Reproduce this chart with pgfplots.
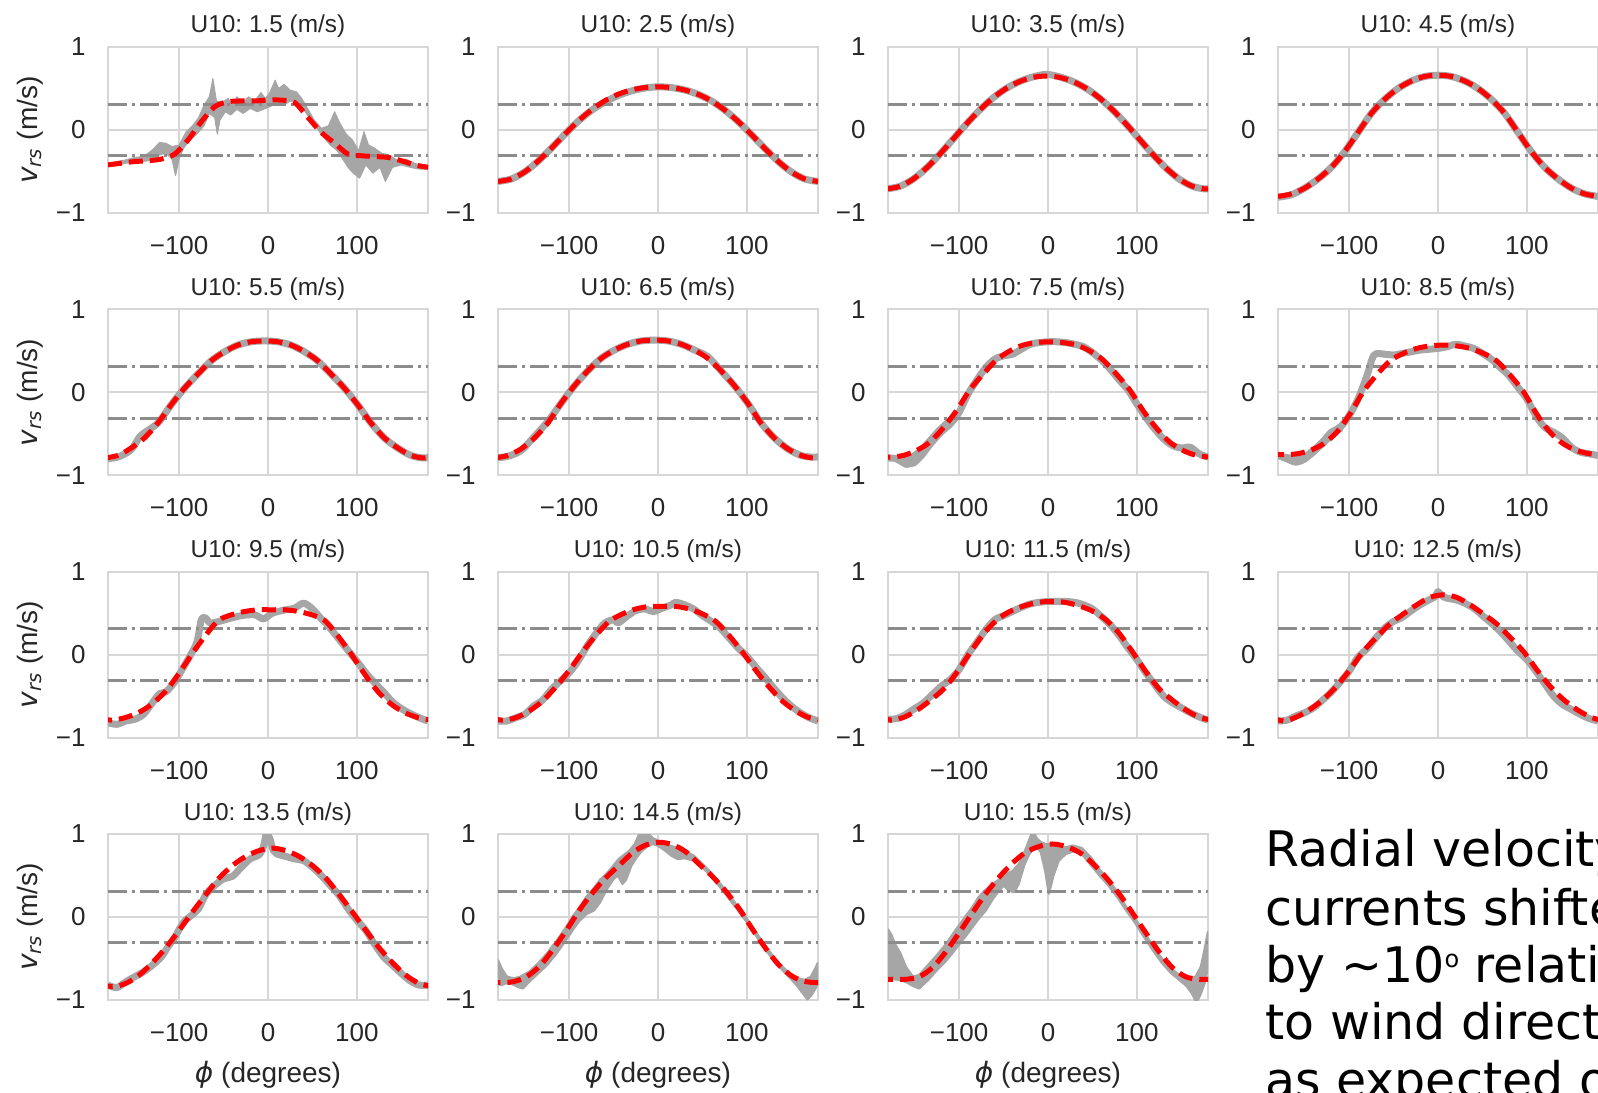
\documentclass[border=0pt]{standalone}
\usepackage{fontspec}
\setmainfont{Liberation Sans}
\newfontfamily\djv{DejaVu Sans}
\usepackage{pgfplots}
\pgfplotsset{compat=1.18}
\frenchspacing

\definecolor{obsgray}{RGB}{166,166,166}
\definecolor{fitred}{RGB}{255,0,0}
\definecolor{refgray}{RGB}{140,140,140}
\definecolor{gridc}{RGB}{214,214,214}
\definecolor{txt}{RGB}{38,38,38}

\pgfplotsset{
  every axis title/.style={font=\fontsize{12.2}{12.2}\selectfont, text=txt, at={(axis description cs:0.5,1)}, anchor=base, yshift=7pt, inner sep=0pt},
  every axis x label/.style={font=\fontsize{14}{14}\selectfont, text=txt, at={(axis description cs:0.5,0)}, anchor=base, yshift=-41pt, inner sep=0pt},
  every axis y label/.style={font=\fontsize{14}{14}\selectfont, text=txt, at={(axis description cs:-0.22,0.5)}, rotate=90, anchor=base, inner sep=0pt},
  panel/.style={
    scale only axis, width=160pt, height=83pt, anchor=north west,
    xmin=-180, xmax=180, ymin=-1, ymax=1,
    xtick={-100,0,100}, xticklabels={−100,0,100},
    ytick={-1,0,1}, yticklabels={−1,0,1},
    major tick length=0pt, tick style={draw=none},
    grid=major, major grid style={line width=1pt, draw=gridc},
    axis line style={line width=1pt, draw=gridc},
    tick label style={font=\fontsize{13}{13}\selectfont, text=txt, inner sep=0pt},
    xticklabel style={anchor=north, yshift=-11.5pt},
    yticklabel style={anchor=east, xshift=-11pt},
    clip=true,
  },
  obsline/.style={color=obsgray, line width=3.5pt, line join=round, smooth},
  band/.style={fill=obsgray, draw=obsgray, line width=#1, line join=round},
  fitline/.style={color=fitred, line width=2.5pt, dash pattern=on 7pt off 3.5pt, smooth},
  refline/.style={color=refgray, line width=1.5pt, dash pattern=on 9.6pt off 2.4pt on 1.5pt off 2.4pt},
}
\newcommand{\reflines}{%
  \addplot[refline] coordinates {(-180,0.31) (180,0.31)};
  \addplot[refline] coordinates {(-180,-0.31) (180,-0.31)};
}
\newcommand{\vrs}{{\djv\itshape v}\textsubscript{\djv\itshape rs} (m/s)}
\newcommand{\phideg}{{\djv\itshape ϕ} (degrees)}

\begin{document}
\begin{tikzpicture}
\useasboundingbox (0pt,-546pt) rectangle (799pt,0pt);
\clip (0pt,-546pt) rectangle (799pt,0pt);

% ---------------- row 1 ----------------
\begin{axis}[panel, at={(54pt,-23.5pt)}, title={U10: 1.5 (m/s)}, ylabel={\vrs}]
\addplot[band=0.5pt] coordinates {(-180,-0.40) (-170,-0.38) (-160,-0.36) (-150,-0.33) (-140,-0.32) (-130,-0.24) (-122,-0.15) (-115,-0.16) (-108,-0.20) (-100,-0.18) (-92,-0.02) (-85,0.05) (-78,0.15) (-72,0.30) (-66,0.40) (-62,0.62) (-58,0.35) (-52,0.33) (-45,0.38) (-40,0.30) (-35,0.40) (-28,0.33) (-22,0.40) (-15,0.35) (-8,0.45) (-3,0.38) (2,0.45) (8,0.60) (12,0.50) (18,0.55) (25,0.48) (32,0.46) (38,0.38) (45,0.25) (52,0.12) (60,0.02) (68,0.05) (75,0.22) (80,0.10) (88,-0.05) (95,-0.12) (102,-0.25) (108,-0.02) (113,-0.18) (120,-0.22) (128,-0.28) (136,-0.30) (145,-0.36) (155,-0.35) (165,-0.40) (172,-0.43) (180,-0.42)
 (180,-0.47) (170,-0.47) (160,-0.45) (150,-0.42) (140,-0.45) (132,-0.62) (126,-0.45) (118,-0.52) (110,-0.42) (103,-0.58) (96,-0.52) (90,-0.45) (84,-0.35) (78,-0.25) (70,-0.18) (62,-0.08) (55,0.02) (48,0.12) (40,0.25) (33,0.32) (25,0.35) (18,0.30) (10,0.32) (2,0.28) (-5,0.25) (-12,0.22) (-20,0.26) (-28,0.20) (-35,0.25) (-42,0.18) (-48,0.22) (-54,0.12) (-57,-0.05) (-60,0.15) (-66,0.20) (-72,0.05) (-80,-0.05) (-88,-0.12) (-95,-0.22) (-100,-0.35) (-104,-0.55) (-108,-0.35) (-115,-0.28) (-122,-0.30) (-130,-0.36) (-140,-0.38) (-150,-0.40) (-160,-0.40) (-170,-0.42) (-180,-0.44)} -- cycle;
\reflines
\addplot[fitline] coordinates {(-180,-0.42) (-165,-0.40) (-150,-0.38) (-135,-0.37) (-120,-0.35) (-105,-0.29) (-90,-0.12) (-75,0.10) (-60,0.28) (-45,0.34) (-30,0.35) (-15,0.35) (0,0.36) (15,0.36) (30,0.33) (45,0.15) (60,-0.03) (75,-0.16) (90,-0.29) (105,-0.31) (120,-0.32) (135,-0.33) (150,-0.37) (165,-0.42) (180,-0.45)};
\end{axis}

\begin{axis}[panel, at={(249pt,-23.5pt)}, title={U10: 2.5 (m/s)}]
\addplot[obsline] coordinates {(-180,-0.620) (-165,-0.590) (-150,-0.505) (-135,-0.376) (-120,-0.220) (-105,-0.054) (-90,0.104) (-75,0.235) (-60,0.335) (-45,0.415) (-30,0.470) (-15,0.505) (0,0.520) (15,0.511) (30,0.482) (45,0.430) (60,0.351) (75,0.241) (90,0.104) (105,-0.054) (120,-0.220) (135,-0.376) (150,-0.505) (165,-0.590) (180,-0.620)};
\reflines
\addplot[fitline] coordinates {(-180,-0.620) (-165,-0.590) (-150,-0.505) (-135,-0.376) (-120,-0.220) (-105,-0.054) (-90,0.104) (-75,0.241) (-60,0.351) (-45,0.430) (-30,0.482) (-15,0.511) (0,0.520) (15,0.511) (30,0.482) (45,0.430) (60,0.351) (75,0.241) (90,0.104) (105,-0.054) (120,-0.220) (135,-0.376) (150,-0.505) (165,-0.590) (180,-0.620)};
\end{axis}

\begin{axis}[panel, at={(444pt,-23.5pt)}, title={U10: 3.5 (m/s)}]
\addplot[obsline] coordinates {(-182,-0.710) (-167,-0.680) (-152,-0.594) (-137,-0.461) (-122,-0.295) (-107,-0.113) (-92,0.070) (-77,0.239) (-62,0.385) (-47,0.501) (-32,0.584) (-17,0.640) (-2,0.670) (13,0.640) (28,0.584) (43,0.501) (58,0.385) (73,0.239) (88,0.070) (103,-0.113) (118,-0.295) (133,-0.461) (148,-0.594) (163,-0.680) (178,-0.710) (193,-0.680)};
\reflines
\addplot[fitline] coordinates {(-182,-0.710) (-167,-0.680) (-152,-0.594) (-137,-0.461) (-122,-0.295) (-107,-0.113) (-92,0.070) (-77,0.239) (-62,0.385) (-47,0.501) (-32,0.584) (-17,0.634) (-2,0.650) (13,0.634) (28,0.584) (43,0.501) (58,0.385) (73,0.239) (88,0.070) (103,-0.113) (118,-0.295) (133,-0.461) (148,-0.594) (163,-0.680) (178,-0.710) (193,-0.680)};
\end{axis}

\begin{axis}[panel, at={(639pt,-23.5pt)}, title={U10: 4.5 (m/s)}]
\addplot[obsline] coordinates {(-180,-0.81) (-165,-0.78) (-150,-0.70) (-135,-0.59) (-120,-0.45) (-105,-0.26) (-90,-0.03) (-75,0.20) (-60,0.37) (-45,0.50) (-30,0.59) (-15,0.645) (0,0.66) (15,0.645) (30,0.59) (45,0.50) (60,0.37) (75,0.20) (90,-0.03) (105,-0.26) (120,-0.45) (135,-0.59) (150,-0.70) (165,-0.77) (180,-0.80)};
\reflines
\addplot[fitline] coordinates {(-180,-0.80) (-165,-0.77) (-150,-0.70) (-135,-0.59) (-120,-0.45) (-105,-0.26) (-90,-0.03) (-75,0.20) (-60,0.37) (-45,0.50) (-30,0.59) (-15,0.645) (0,0.66) (15,0.645) (30,0.59) (45,0.50) (60,0.37) (75,0.20) (90,-0.03) (105,-0.26) (120,-0.45) (135,-0.59) (150,-0.70) (165,-0.77) (180,-0.80)};
\end{axis}

% ---------------- row 2 ----------------
\begin{axis}[panel, at={(54pt,-154.7pt)}, title={U10: 5.5 (m/s)}, ylabel={\vrs}]
\addplot[obsline] coordinates {(-184,-0.80) (-169,-0.78) (-154,-0.69) (-143,-0.52) (-124,-0.37) (-109,-0.15) (-94,0.05) (-79,0.22) (-64,0.38) (-49,0.49) (-34,0.57) (-19,0.61) (-4,0.62) (11,0.61) (26,0.57) (41,0.49) (56,0.38) (71,0.22) (86,0.05) (101,-0.15) (116,-0.37) (131,-0.55) (146,-0.67) (161,-0.76) (176,-0.79) (191,-0.76)};
\reflines
\addplot[fitline] coordinates {(-184,-0.79) (-169,-0.76) (-154,-0.67) (-139,-0.55) (-124,-0.37) (-109,-0.15) (-94,0.05) (-79,0.22) (-64,0.38) (-49,0.49) (-34,0.57) (-19,0.61) (-4,0.62) (11,0.61) (26,0.57) (41,0.49) (56,0.38) (71,0.22) (86,0.05) (101,-0.15) (116,-0.37) (131,-0.55) (146,-0.67) (161,-0.76) (176,-0.79) (191,-0.76)};
\end{axis}

\begin{axis}[panel, at={(249pt,-154.7pt)}, title={U10: 6.5 (m/s)}]
\addplot[obsline] coordinates {(-184,-0.79) (-169,-0.77) (-154,-0.70) (-139,-0.53) (-124,-0.35) (-109,-0.13) (-94,0.08) (-79,0.26) (-64,0.41) (-49,0.51) (-34,0.58) (-19,0.62) (-4,0.63) (11,0.62) (26,0.58) (41,0.51) (56,0.43) (71,0.26) (86,0.08) (101,-0.13) (116,-0.37) (131,-0.55) (146,-0.68) (161,-0.76) (176,-0.78) (191,-0.76)};
\reflines
\addplot[fitline] coordinates {(-184,-0.79) (-169,-0.76) (-154,-0.68) (-139,-0.55) (-124,-0.37) (-109,-0.13) (-94,0.08) (-79,0.26) (-64,0.41) (-49,0.51) (-34,0.58) (-19,0.62) (-4,0.63) (11,0.62) (26,0.58) (41,0.51) (56,0.41) (71,0.26) (86,0.08) (101,-0.13) (116,-0.37) (131,-0.55) (146,-0.68) (161,-0.76) (176,-0.79) (191,-0.76)};
\end{axis}

\begin{axis}[panel, at={(444pt,-154.7pt)}, title={U10: 7.5 (m/s)}]
\addplot[band=0.8pt] coordinates {(-175,-0.78) (-165,-0.80) (-155,-0.76) (-145,-0.68) (-135,-0.56) (-125,-0.44) (-115,-0.34) (-105,-0.24) (-100,-0.20)
 (-100,-0.30) (-110,-0.42) (-120,-0.52) (-130,-0.64) (-140,-0.78) (-150,-0.88) (-160,-0.90) (-170,-0.84) (-175,-0.80)} -- cycle;
\addplot[obsline] coordinates {(-180,-0.79) (-170,-0.80) (-160,-0.86) (-150,-0.84) (-140,-0.72) (-130,-0.58) (-120,-0.47) (-110,-0.38) (-100,-0.24) (-90,-0.02) (-80,0.15) (-70,0.30) (-60,0.40) (-50,0.44) (-40,0.46) (-30,0.52) (-20,0.58) (-10,0.60) (0,0.61) (10,0.61) (20,0.60) (30,0.58) (40,0.55) (50,0.48) (60,0.39) (70,0.28) (80,0.15) (90,0.03) (100,-0.14) (110,-0.30) (120,-0.44) (130,-0.56) (140,-0.64) (150,-0.67) (160,-0.66) (170,-0.74) (180,-0.78)};
\reflines
\addplot[fitline] coordinates {(-193,-0.76) (-178,-0.78) (-163,-0.76) (-148,-0.70) (-133,-0.60) (-118,-0.43) (-103,-0.22) (-88,0.03) (-73,0.22) (-58,0.39) (-43,0.50) (-28,0.57) (-13,0.60) (2,0.61) (17,0.60) (32,0.57) (47,0.50) (62,0.39) (77,0.22) (92,0.03) (107,-0.22) (122,-0.43) (137,-0.60) (152,-0.70) (167,-0.76) (182,-0.78)};
\end{axis}

\begin{axis}[panel, at={(639pt,-154.7pt)}, title={U10: 8.5 (m/s)}]
\addplot[band=0.8pt] coordinates {(-178,-0.74) (-165,-0.76) (-150,-0.74) (-140,-0.66) (-128,-0.56) (-118,-0.44) (-108,-0.36)
 (-108,-0.46) (-118,-0.54) (-128,-0.64) (-140,-0.76) (-150,-0.84) (-160,-0.86) (-170,-0.82) (-178,-0.78)} -- cycle;
\addplot[obsline] coordinates {(-180,-0.76) (-170,-0.80) (-160,-0.84) (-150,-0.80) (-140,-0.70) (-130,-0.60) (-120,-0.48) (-110,-0.42) (-100,-0.28) (-90,-0.08) (-80,0.20) (-72,0.45) (-60,0.46) (-50,0.45) (-40,0.47) (-30,0.49) (-20,0.51) (-10,0.52) (0,0.53) (10,0.55) (20,0.58) (30,0.56) (40,0.53) (50,0.47) (60,0.40) (70,0.30) (80,0.20) (90,0.06) (100,-0.08) (110,-0.28) (120,-0.42) (130,-0.48) (140,-0.55) (150,-0.66) (160,-0.72) (170,-0.74) (180,-0.76)};
\reflines
\addplot[fitline] coordinates {(-189,-0.74) (-174,-0.75) (-159,-0.74) (-144,-0.70) (-129,-0.62) (-114,-0.48) (-99,-0.26) (-84,0.01) (-69,0.21) (-54,0.38) (-39,0.47) (-24,0.53) (-9,0.56) (6,0.57) (21,0.56) (36,0.53) (51,0.47) (66,0.38) (81,0.21) (96,0.01) (111,-0.26) (126,-0.48) (141,-0.62) (156,-0.70) (171,-0.74) (186,-0.75)};
\end{axis}

% ---------------- row 3 ----------------
\begin{axis}[panel, at={(54pt,-285.8pt)}, title={U10: 9.5 (m/s)}, ylabel={\vrs}]
\addplot[obsline] coordinates {(-180,-0.82) (-170,-0.84) (-160,-0.80) (-150,-0.78) (-140,-0.72) (-130,-0.58) (-122,-0.47) (-115,-0.45) (-105,-0.33) (-95,-0.15) (-88,-0.02) (-80,0.15) (-75,0.42) (-70,0.44) (-65,0.38) (-55,0.40) (-45,0.43) (-30,0.47) (-15,0.48) (-5,0.43) (5,0.50) (20,0.54) (30,0.56) (40,0.62) (50,0.55) (60,0.43) (65,0.38) (75,0.25) (90,0.05) (100,-0.08) (110,-0.22) (120,-0.34) (130,-0.45) (140,-0.57) (150,-0.65) (160,-0.71) (170,-0.76) (180,-0.80)};
\reflines
\addplot[fitline] coordinates {(-191,-0.76) (-176,-0.79) (-161,-0.76) (-146,-0.70) (-131,-0.60) (-116,-0.45) (-101,-0.24) (-86,0.00) (-71,0.22) (-56,0.41) (-41,0.48) (-26,0.52) (-11,0.54) (4,0.54) (19,0.54) (34,0.52) (49,0.48) (64,0.41) (79,0.22) (94,0.00) (109,-0.24) (124,-0.45) (139,-0.60) (154,-0.70) (169,-0.76) (184,-0.79)};
\end{axis}

\begin{axis}[panel, at={(249pt,-285.8pt)}, title={U10: 10.5 (m/s)}]
\addplot[obsline] coordinates {(-180,-0.80) (-170,-0.80) (-160,-0.76) (-150,-0.72) (-140,-0.62) (-130,-0.55) (-120,-0.42) (-110,-0.32) (-100,-0.22) (-90,-0.08) (-80,0.10) (-70,0.25) (-60,0.38) (-50,0.42) (-45,0.38) (-35,0.46) (-25,0.53) (-15,0.55) (-5,0.52) (5,0.56) (15,0.60) (20,0.63) (30,0.60) (40,0.55) (50,0.47) (60,0.40) (70,0.32) (80,0.20) (90,0.08) (100,-0.02) (110,-0.15) (120,-0.27) (130,-0.40) (140,-0.52) (150,-0.62) (160,-0.70) (170,-0.76) (180,-0.80)};
\reflines
\addplot[fitline] coordinates {(-190,-0.76) (-175,-0.79) (-160,-0.76) (-145,-0.68) (-130,-0.56) (-115,-0.39) (-100,-0.19) (-85,0.03) (-70,0.23) (-55,0.40) (-40,0.49) (-25,0.55) (-10,0.58) (5,0.58) (20,0.58) (35,0.55) (50,0.49) (65,0.40) (80,0.23) (95,0.03) (110,-0.19) (125,-0.39) (140,-0.56) (155,-0.68) (170,-0.76) (185,-0.79)};
\end{axis}

\begin{axis}[panel, at={(444pt,-285.8pt)}, title={U10: 11.5 (m/s)}]
\addplot[obsline] coordinates {(-180,-0.78) (-170,-0.77) (-160,-0.72) (-150,-0.65) (-140,-0.58) (-130,-0.48) (-120,-0.38) (-110,-0.30) (-100,-0.18) (-90,0.00) (-80,0.15) (-70,0.30) (-60,0.42) (-50,0.47) (-40,0.52) (-30,0.57) (-20,0.61) (-10,0.63) (0,0.64) (10,0.64) (20,0.64) (30,0.63) (40,0.60) (50,0.55) (60,0.46) (70,0.36) (80,0.23) (90,0.08) (100,-0.06) (110,-0.22) (120,-0.36) (130,-0.50) (140,-0.58) (150,-0.64) (160,-0.70) (170,-0.75) (180,-0.79)};
\reflines
\addplot[fitline] coordinates {(-191,-0.75) (-176,-0.79) (-161,-0.75) (-146,-0.66) (-131,-0.54) (-116,-0.40) (-101,-0.19) (-86,0.05) (-71,0.27) (-56,0.43) (-41,0.53) (-26,0.59) (-11,0.63) (4,0.64) (19,0.63) (34,0.59) (49,0.53) (64,0.43) (79,0.27) (94,0.05) (109,-0.19) (124,-0.40) (139,-0.54) (154,-0.66) (169,-0.75) (184,-0.79)};
\end{axis}

\begin{axis}[panel, at={(639pt,-285.8pt)}, title={U10: 12.5 (m/s)}]
\addplot[obsline] coordinates {(-180,-0.80) (-170,-0.79) (-160,-0.74) (-150,-0.70) (-140,-0.64) (-130,-0.55) (-120,-0.45) (-110,-0.33) (-100,-0.20) (-90,-0.03) (-80,0.07) (-70,0.20) (-60,0.32) (-50,0.40) (-40,0.45) (-30,0.53) (-20,0.60) (-10,0.66) (-3,0.70) (0,0.76) (4,0.71) (10,0.68) (20,0.66) (30,0.62) (40,0.56) (50,0.47) (60,0.38) (70,0.28) (80,0.16) (90,0.04) (100,-0.06) (110,-0.20) (120,-0.35) (130,-0.50) (140,-0.60) (150,-0.66) (160,-0.72) (170,-0.77) (180,-0.80)};
\reflines
\addplot[fitline] coordinates {(-189,-0.75) (-174,-0.80) (-159,-0.75) (-144,-0.66) (-129,-0.54) (-114,-0.38) (-99,-0.18) (-84,0.04) (-69,0.21) (-54,0.37) (-39,0.49) (-24,0.60) (-9,0.69) (6,0.72) (21,0.69) (36,0.60) (51,0.49) (66,0.37) (81,0.21) (96,0.04) (111,-0.18) (126,-0.38) (141,-0.54) (156,-0.66) (171,-0.75) (186,-0.80)};
\end{axis}

% ---------------- row 4 ----------------
\begin{axis}[panel, at={(54pt,-417pt)}, title={U10: 13.5 (m/s)}, ylabel={\vrs}, xlabel={\phideg}]
\addplot[obsline] coordinates {(-180,-0.82) (-170,-0.85) (-160,-0.78) (-150,-0.72) (-140,-0.66) (-130,-0.58) (-120,-0.48) (-112,-0.35) (-105,-0.25) (-100,-0.15) (-94,-0.05) (-86,0.02) (-78,0.10) (-70,0.27) (-60,0.38) (-50,0.46) (-40,0.49) (-30,0.60) (-20,0.70) (-10,0.75) (-5,0.85) (-2,1.0) (2,0.95) (6,0.80) (10,0.76) (20,0.73) (30,0.70) (40,0.68) (50,0.60) (60,0.50) (70,0.38) (80,0.26) (90,0.10) (100,-0.04) (110,-0.16) (120,-0.33) (130,-0.48) (140,-0.58) (150,-0.68) (160,-0.77) (170,-0.82) (180,-0.82)};
\reflines
\addplot[fitline] coordinates {(-190,-0.80) (-175,-0.84) (-160,-0.80) (-145,-0.70) (-130,-0.55) (-115,-0.37) (-100,-0.16) (-85,0.06) (-70,0.27) (-55,0.47) (-40,0.62) (-25,0.73) (-10,0.80) (5,0.83) (20,0.80) (35,0.73) (50,0.62) (65,0.47) (80,0.27) (95,0.06) (110,-0.16) (125,-0.37) (140,-0.55) (155,-0.70) (170,-0.80) (185,-0.84)};
\end{axis}

\begin{axis}[panel, at={(249pt,-417pt)}, title={U10: 14.5 (m/s)}, xlabel={\phideg}]
\addplot[band=1.2pt] coordinates {(-180,-0.52) (-176,-0.62) (-170,-0.72) (-162,-0.74) (-155,-0.72) (-145,-0.66) (-135,-0.56) (-125,-0.44) (-115,-0.30) (-105,-0.15) (-95,0.02) (-88,0.12) (-80,0.25) (-72,0.35) (-65,0.45) (-58,0.52) (-50,0.62) (-44,0.70) (-38,0.75) (-32,0.80) (-26,0.88) (-22,0.98) (-18,1.05) (-12,1.02) (-6,0.95) (0,0.92) (6,0.90) (12,0.86) (20,0.84) (30,0.80) (40,0.74) (50,0.64) (60,0.53) (70,0.40) (80,0.27) (90,0.12) (100,-0.02) (110,-0.18) (120,-0.34) (130,-0.48) (140,-0.60) (150,-0.70) (158,-0.74) (165,-0.76) (172,-0.72) (177,-0.62) (180,-0.55)
 (180,-0.80) (176,-0.88) (172,-0.95) (168,-0.99) (163,-0.92) (156,-0.82) (150,-0.75) (140,-0.64) (130,-0.52) (120,-0.38) (110,-0.22) (100,-0.06) (90,0.08) (80,0.22) (70,0.36) (60,0.49) (50,0.60) (40,0.68) (30,0.71) (22,0.70) (15,0.74) (8,0.80) (0,0.86) (-6,0.88) (-12,0.85) (-18,0.80) (-24,0.72) (-30,0.62) (-36,0.45) (-40,0.40) (-45,0.50) (-50,0.46) (-58,0.33) (-65,0.18) (-72,0.08) (-80,0.04) (-88,-0.04) (-95,-0.14) (-105,-0.30) (-115,-0.45) (-125,-0.58) (-135,-0.68) (-145,-0.78) (-152,-0.86) (-158,-0.84) (-165,-0.80) (-172,-0.80) (-176,-0.82) (-180,-0.80)} -- cycle;
\reflines
\addplot[fitline] coordinates {(-193,-0.78) (-178,-0.79) (-163,-0.78) (-148,-0.72) (-133,-0.59) (-118,-0.39) (-103,-0.16) (-88,0.09) (-73,0.30) (-58,0.48) (-43,0.63) (-28,0.78) (-13,0.87) (2,0.90) (17,0.87) (32,0.78) (47,0.63) (62,0.48) (77,0.30) (92,0.09) (107,-0.16) (122,-0.39) (137,-0.59) (152,-0.72) (167,-0.78) (182,-0.79)};
\end{axis}

\begin{axis}[panel, at={(444pt,-417pt)}, title={U10: 15.5 (m/s)}, xlabel={\phideg}]
\addplot[band=1.2pt] coordinates {(-180,-0.15) (-176,-0.22) (-172,-0.33) (-166,-0.44) (-160,-0.60) (-152,-0.72) (-145,-0.70) (-135,-0.58) (-125,-0.46) (-115,-0.33) (-108,-0.22) (-100,-0.10) (-92,0.02) (-85,0.12) (-78,0.24) (-70,0.33) (-62,0.40) (-55,0.45) (-48,0.52) (-40,0.55) (-32,0.65) (-25,0.82) (-20,0.96) (-17,1.05) (-13,0.95) (-8,0.90) (-3,0.88) (3,0.88) (10,0.86) (20,0.84) (28,0.86) (38,0.83) (48,0.72) (58,0.57) (68,0.45) (78,0.30) (88,0.12) (98,-0.02) (108,-0.18) (118,-0.35) (128,-0.50) (138,-0.62) (148,-0.70) (158,-0.74) (166,-0.72) (172,-0.60) (176,-0.40) (180,-0.18)
 (180,-0.60) (176,-0.80) (172,-0.92) (167,-1.03) (162,-0.92) (155,-0.82) (148,-0.76) (138,-0.67) (128,-0.55) (118,-0.40) (108,-0.24) (98,-0.07) (88,0.08) (78,0.24) (68,0.38) (58,0.50) (48,0.63) (38,0.76) (28,0.79) (20,0.76) (12,0.68) (6,0.50) (1,0.28) (-3,0.55) (-8,0.78) (-13,0.85) (-17,0.82) (-22,0.74) (-27,0.62) (-33,0.40) (-38,0.30) (-44,0.32) (-50,0.38) (-55,0.32) (-62,0.22) (-70,0.08) (-78,-0.02) (-85,-0.12) (-92,-0.22) (-100,-0.33) (-108,-0.44) (-115,-0.53) (-125,-0.64) (-135,-0.76) (-145,-0.86) (-152,-0.83) (-160,-0.78) (-166,-0.76) (-172,-0.75) (-176,-0.75) (-180,-0.73)} -- cycle;
\reflines
\addplot[fitline] coordinates {(-190,-0.75) (-175,-0.75) (-160,-0.75) (-145,-0.72) (-130,-0.61) (-115,-0.42) (-100,-0.19) (-85,0.05) (-70,0.28) (-55,0.48) (-40,0.65) (-25,0.78) (-10,0.85) (5,0.88) (20,0.85) (35,0.78) (50,0.65) (65,0.48) (80,0.28) (95,0.05) (110,-0.19) (125,-0.42) (140,-0.61) (155,-0.72) (170,-0.75) (185,-0.75)};
\end{axis}

% ---------------- caption text ----------------
\begin{scope}[every node/.style={anchor=base west, inner sep=0pt, font=\djv\fontsize{24.5}{24.5}\selectfont}]
\node at (632.5pt,-433pt) {Radial velocity of};
\node at (632.5pt,-462.5pt) {currents shifted};
\node at (632.5pt,-491pt) {by {\char"7E}10\raisebox{0.55ex}{\fontsize{12}{12}\selectfont o} relative};
\node at (632.5pt,-519.5pt) {to wind direction};
\node at (632.5pt,-548.5pt) {as expected of};
\end{scope}
\end{tikzpicture}
\end{document}
